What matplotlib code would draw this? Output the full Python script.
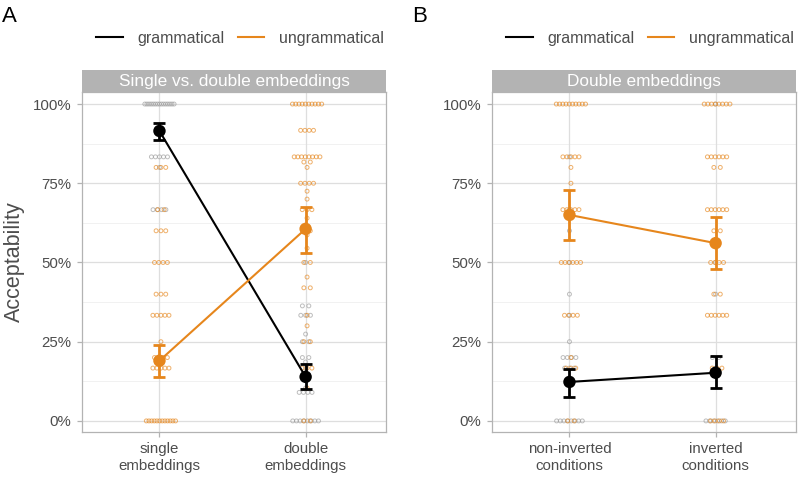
import matplotlib
matplotlib.use("Agg")
import matplotlib.pyplot as plt
import numpy as np
from matplotlib.lines import Line2D
from matplotlib.patches import Rectangle

plt.rcParams['font.family'] = ['Liberation Sans', 'DejaVu Sans']

# ---------------- data ----------------
groups = ["grammatical", "ungrammatical"]
strip_A = "Single vs. double embeddings"
strip_B = "Double embeddings"
cats_A = ["single\nembeddings", "double\nembeddings"]
cats_B = ["non-inverted\nconditions", "inverted\nconditions"]

# means and CI (lower, upper) per category
A_gram_mean = [0.915, 0.139]
A_gram_lo = [0.885, 0.100]
A_gram_hi = [0.940, 0.180]
A_ungr_mean = [0.190, 0.606]
A_ungr_lo = [0.140, 0.530]
A_ungr_hi = [0.240, 0.675]

B_gram_mean = [0.123, 0.152]
B_gram_lo = [0.075, 0.105]
B_gram_hi = [0.165, 0.205]
B_ungr_mean = [0.650, 0.561]
B_ungr_lo = [0.570, 0.480]
B_ungr_hi = [0.730, 0.642]

# individual responses (value, count)
A_single_gram = [(1.0, 15), (5/6, 5), (2/3, 4), (0.8, 1)]
A_single_ungr = [(0.8, 3), (2/3, 2), (0.6, 3), (0.5, 4), (0.4, 3), (1/3, 5),
                 (0.25, 1), (0.2, 4), (1/6, 5), (0.0, 12)]
A_double_gram = [(0.5, 1), (0.363, 2), (1/3, 3), (0.274, 1), (0.25, 2), (0.2, 2),
                 (0.186, 1), (1/6, 1), (0.104, 1), (0.09, 4), (0.0, 8)]
A_double_ungr = [(1.0, 10), (0.917, 4), (5/6, 8), (0.817, 2), (0.8, 1), (0.75, 4),
                 (0.725, 1), (0.7, 1), (2/3, 3), (0.64, 1), (0.6, 2), (0.587, 1),
                 (0.545, 1), (0.5, 2), (0.454, 1), (0.42, 2), (1/3, 1), (0.3, 1),
                 (0.25, 2), (1/6, 3), (0.104, 1), (0.0, 2)]
B_noninv_gram = [(5/6, 1), (2/3, 1), (0.6, 1), (0.5, 1), (0.4, 1), (1/3, 1),
                 (0.25, 1), (0.2, 4), (1/6, 3), (0.0, 8)]
B_noninv_ungr = [(1.0, 10), (5/6, 5), (0.8, 1), (0.75, 1), (2/3, 5), (0.5, 6),
                 (1/3, 4), (0.2, 1), (1/6, 3), (0.0, 2)]
B_inv_gram = [(1.0, 1), (0.5, 1), (0.4, 1), (0.2, 2), (1/6, 1), (0.0, 6)]
B_inv_ungr = [(1.0, 8), (5/6, 6), (0.8, 2), (2/3, 6), (0.6, 2), (0.5, 4),
              (0.4, 2), (1/3, 6), (1/6, 3), (0.0, 4)]

ytick_vals = [0, 0.25, 0.5, 0.75, 1.0]
ytick_labels = ["0%", "25%", "50%", "75%", "100%"]

# ---------------- style ----------------
BLACK = "#000000"
ORANGE = "#E6861C"
GREY_PT = "#9A9A9A"
BORDER = "#B3B3B3"
GRID = "#DEDEDE"
TXT = "#4D4D4D"

W, H = 800, 484
fig = plt.figure(figsize=(8, 4.84), dpi=100)


def fx(px):
    return px / W


def fy(py):
    return 1 - py / H


def jitter_points(ax, xc, data, color, shift):
    for val, n in data:
        w = min(0.1, 0.011 * n)
        offs = np.linspace(-w, w, n) if n > 1 else np.array([0.0])
        offs = offs + shift
        ax.scatter(xc + offs, [val] * n, s=8, facecolors="none",
                   edgecolors=color, linewidths=0.7, alpha=0.65, zorder=2)


def panel(left_px, right_px, strip_text, cats, jit, means, letter, ylabel):
    top_px, bot_px = 92, 432
    ax = fig.add_axes([fx(left_px), fy(bot_px), fx(right_px - left_px),
                       (bot_px - top_px) / H])
    ax.set_xlim(0.47, 2.55)
    ax.set_ylim(-0.035, 1.038)
    ax.set_facecolor("white")
    # grid
    for v in ytick_vals:
        ax.axhline(v, color=GRID, lw=0.9, zorder=0)
    for v in [0.125, 0.375, 0.625, 0.875]:
        ax.axhline(v, color="#EFEFEF", lw=0.6, zorder=0)
    for x in [1, 2]:
        ax.axvline(x, color=GRID, lw=0.9, zorder=0)
    for s in ax.spines.values():
        s.set_color(BORDER)
        s.set_linewidth(0.9)
    ax.set_yticks(ytick_vals)
    ax.set_yticklabels(ytick_labels)
    ax.set_xticks([1, 2])
    ax.set_xticklabels(cats)
    ax.tick_params(axis="both", colors=BORDER, labelcolor=TXT, labelsize=10.8,
                   length=3.5, width=0.9)
    ax.tick_params(axis="y", pad=4)
    ax.tick_params(axis="x", pad=4)
    if ylabel:
        ax.set_ylabel("Acceptability", fontsize=15.5, color=TXT, labelpad=6)

    # jitter
    (g1, u1), (g2, u2) = jit
    jitter_points(ax, 1, g1, GREY_PT, 0.0)
    jitter_points(ax, 1, u1, ORANGE, 0.01)
    jitter_points(ax, 2, g2, GREY_PT, 0.0)
    jitter_points(ax, 2, u2, ORANGE, 0.01)

    xs = np.array([1, 2])
    for (m, lo, hi), col in zip(means, [BLACK, ORANGE]):
        m = np.array(m); lo = np.array(lo); hi = np.array(hi)
        ax.plot(xs, m, color=col, lw=1.5, zorder=4)
        ax.errorbar(xs, m, yerr=[m - lo, hi - m], fmt="none", ecolor=col,
                    elinewidth=2.0, capsize=4.5, capthick=2.0, zorder=5)
        ax.scatter(xs, m, s=80, color=col, zorder=6, edgecolors="none")

    # strip
    sax = fig.add_axes([fx(left_px), fy(top_px), fx(right_px - left_px),
                        (top_px - 70) / H])
    sax.set_xlim(0, 1); sax.set_ylim(0, 1)
    sax.add_patch(Rectangle((0, 0), 1, 1, color=BORDER, lw=0))
    sax.text(0.5, 0.47, strip_text, color="white", fontsize=12.4,
             ha="center", va="center")
    sax.axis("off")

    # legend
    cx = (left_px + right_px) / 2
    handles = [Line2D([], [], color=BLACK, lw=1.5),
               Line2D([], [], color=ORANGE, lw=1.5)]
    fig.legend(handles, groups, loc="center",
               bbox_to_anchor=(fx(cx + 6), fy(38)), ncol=2, frameon=False,
               fontsize=11.5, handlelength=1.65, handletextpad=0.9,
               columnspacing=0.85, labelcolor=TXT)
    fig.text(fx(left_px - 80), fy(16), letter, fontsize=16, color="black",
             ha="left", va="center")
    return ax


panel(82, 386, strip_A, cats_A,
      [(A_single_gram, A_single_ungr), (A_double_gram, A_double_ungr)],
      [(A_gram_mean, A_gram_lo, A_gram_hi), (A_ungr_mean, A_ungr_lo, A_ungr_hi)],
      "A", True)
panel(492, 796, strip_B, cats_B,
      [(B_noninv_gram, B_noninv_ungr), (B_inv_gram, B_inv_ungr)],
      [(B_gram_mean, B_gram_lo, B_gram_hi), (B_ungr_mean, B_ungr_lo, B_ungr_hi)],
      "B", False)

fig.savefig("out.png", dpi=100, facecolor="white")
